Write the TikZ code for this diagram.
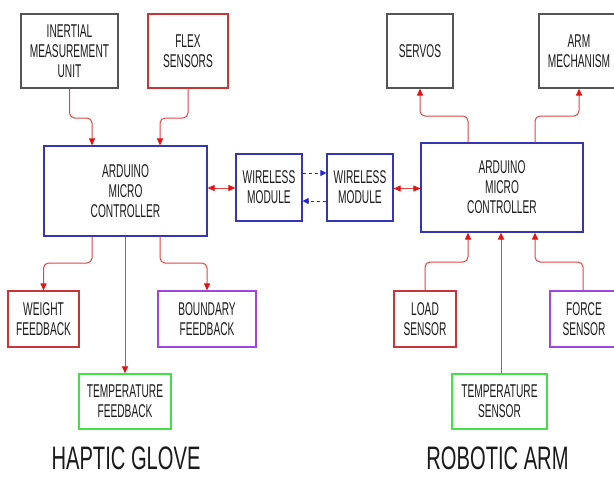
\documentclass[tikz,border=0pt]{standalone}
\usepackage{fontspec}
\setmainfont[FakeStretch=0.55]{Liberation Sans}
\newfontfamily\titlefont[FakeStretch=0.62]{Liberation Sans}
\usetikzlibrary{arrows.meta}
\definecolor{boxgray}{HTML}{555555}
\definecolor{boxred}{HTML}{C83535}
\definecolor{boxblue}{HTML}{3535B5}
\definecolor{boxpurple}{HTML}{A045E0}
\definecolor{boxgreen}{HTML}{45E045}
\definecolor{linered}{HTML}{E04545}
\definecolor{tipred}{HTML}{E81010}
\definecolor{dashblue}{HTML}{2525D5}
\definecolor{txt}{HTML}{1A1A1A}
\begin{document}
\begin{tikzpicture}[x=1pt,y=-1pt,
  blk/.style={draw, line width=1.2pt, inner sep=0pt, align=center, text=txt,
    font=\fontsize{18.5}{20}\selectfont},
  arr/.style={draw=linered, line width=1pt, rounded corners=5pt,
    -{Triangle[length=7pt,width=6pt,fill=tipred,color=tipred]}},
  darr/.style={draw=linered, line width=1pt,
    {Triangle[length=7pt,width=6pt,fill=tipred,color=tipred]}-{Triangle[length=7pt,width=6pt,fill=tipred,color=tipred]}},
  dsh/.style={draw=dashblue, line width=1pt, dash pattern=on 3pt off 3pt,
    -{Triangle[length=6pt,width=6pt,fill=dashblue,color=dashblue]}},
  ttl/.style={text=txt, font=\titlefont\fontsize{32.5}{34}\selectfont, inner sep=2pt}]
\useasboundingbox (0,0) rectangle (614,477);
% titles
\node[ttl] (tl) at (126,458.5) {HAPTIC GLOVE};
\node[ttl] (tr) at (497.5,458.5) {ROBOTIC ARM};
\begin{scope}
\clip (0,0) rectangle (614,477);
% left side
\node[blk, draw=boxgray, minimum width=97pt, minimum height=74pt] (imu) at (69.5,51) {INERTIAL\\MEASUREMENT\\UNIT};
\node[blk, draw=boxred, minimum width=80pt, minimum height=74pt] (flex) at (188,51) {FLEX\\SENSORS};
\node[blk, draw=boxblue, minimum width=163pt, minimum height=90pt] (ardL) at (125.5,191) {ARDUINO\\MICRO\\CONTROLLER};
\node[blk, draw=boxblue, minimum width=66pt, minimum height=67pt] (wL) at (269,187.5) {WIRELESS\\MODULE};
\node[blk, draw=boxred, minimum width=71pt, minimum height=56pt] (weight) at (43.5,319) {WEIGHT\\FEEDBACK};
\node[blk, draw=boxpurple, minimum width=98pt, minimum height=56pt] (bound) at (207,319) {BOUNDARY\\FEEDBACK};
\node[blk, draw=boxgreen, minimum width=92pt, minimum height=55pt] (tempF) at (125,401.5) {TEMPERATURE\\FEEDBACK};
% right side
\node[blk, draw=boxblue, minimum width=66pt, minimum height=67pt] (wR) at (360,187.5) {WIRELESS\\MODULE};
\node[blk, draw=boxblue, minimum width=162pt, minimum height=89pt] (ardR) at (502,187.5) {ARDUINO\\MICRO\\CONTROLLER};
\node[blk, draw=boxgray, minimum width=66pt, minimum height=74pt] (servo) at (420,51) {SERVOS};
\node[blk, draw=boxgray, minimum width=80pt, minimum height=74pt] (arm) at (579,51) {ARM\\MECHANISM};
\node[blk, draw=boxred, minimum width=62pt, minimum height=56pt] (load) at (425,319) {LOAD\\SENSOR};
\node[blk, draw=boxpurple, minimum width=68pt, minimum height=56pt] (force) at (584,319) {FORCE\\SENSOR};
\node[blk, draw=boxgreen, minimum width=95pt, minimum height=55pt] (tempS) at (499.5,401.5) {TEMPERATURE\\SENSOR};
% connectors left
\draw[arr] (imu.south) -- (69.5,118) -- (92,118) -- (ardL.north -| 92,0);
\draw[arr] (flex.south) -- (188,118) -- (160,118) -- (ardL.north -| 160,0);
\draw[arr] (ardL.south -| 92,0) -- (92,263) -- (43.5,263) -- (weight.north);
\draw[arr] (ardL.south -| 160,0) -- (160,263) -- (207,263) -- (bound.north);
\draw[arr] (ardL.south -| 125,0) -- (tempF.north);
\draw[darr] (ardL.east |- 0,188) -- (wL.west |- 0,188);
% wireless link
\draw[dsh] (wL.east |- 0,173) -- (wR.west |- 0,173);
\draw[dsh] (wR.west |- 0,201) -- (wL.east |- 0,201);
% connectors right
\draw[darr] (wR.east |- 0,188.5) -- (ardR.west |- 0,188.5);
\draw[arr] (ardR.north -| 468,0) -- (468,116) -- (420,116) -- (servo.south);
\draw[arr] (ardR.north -| 535,0) -- (535,116) -- (579,116) -- (arm.south);
\draw[arr] (load.north) -- (425,262) -- (468,262) -- (ardR.south -| 468,0);
\draw[arr] (tempS.north -| 501,0) -- (ardR.south -| 501,0);
\draw[arr] (force.north -| 583,0) -- (583,262) -- (535,262) -- (ardR.south -| 535,0);
\end{scope}
\end{tikzpicture}
\end{document}
